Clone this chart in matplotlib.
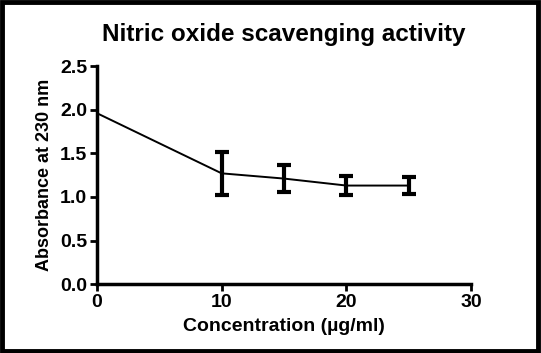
import matplotlib
matplotlib.use("Agg")
import matplotlib.pyplot as plt
from matplotlib.patches import Rectangle

# data
conc = [0, 10, 15, 20, 25]
absorb = [1.96, 1.27, 1.21, 1.13, 1.13]
sem = [0.0, 0.25, 0.155, 0.11, 0.10]

xticks = [0, 10, 20, 30]
yticks = [0.0, 0.5, 1.0, 1.5, 2.0, 2.5]

plt.rcParams['font.family'] = ['Liberation Sans', 'DejaVu Sans']
plt.rcParams['font.weight'] = 'bold'

fig = plt.figure(figsize=(5.41, 3.53), dpi=100)
ax = fig.add_axes([0.179, 0.195, 0.692, 0.618])

ax.plot(conc, absorb, color='black', linewidth=1.4)
# error bars only where there is a spread
ex = [c for c, e in zip(conc, sem) if e > 0]
ey = [a for a, e in zip(absorb, sem) if e > 0]
ee = [e for e in sem if e > 0]
ax.errorbar(ex, ey, yerr=ee, fmt='none', ecolor='black',
            elinewidth=3, capsize=4.8, capthick=3)

ax.set_xlim(0, 30)
ax.set_ylim(0, 2.5)
ax.set_xticks(xticks)
ax.set_yticks(yticks)
ax.set_yticklabels([f"{v:.1f}" for v in yticks])

for s in ['top', 'right']:
    ax.spines[s].set_visible(False)
for s in ['left', 'bottom']:
    ax.spines[s].set_linewidth(2.5)
ax.tick_params(width=2, length=5, labelsize=14, pad=2)

ax.set_title("Nitric oxide scavenging activity", fontsize=17.5,
             fontweight='bold', pad=18)
ax.set_xlabel("Concentration (\u00b5g/ml)", fontsize=14, fontweight='bold', labelpad=5)
ax.set_ylabel("Absorbance at 230 nm", fontsize=13, fontweight='bold', labelpad=5)

# black border round the figure
fig.patches.append(Rectangle((0.004, 0.006), 0.99, 0.988, transform=fig.transFigure,
                             fill=False, edgecolor='black', linewidth=3.5))

fig.savefig("out.png", dpi=100)
